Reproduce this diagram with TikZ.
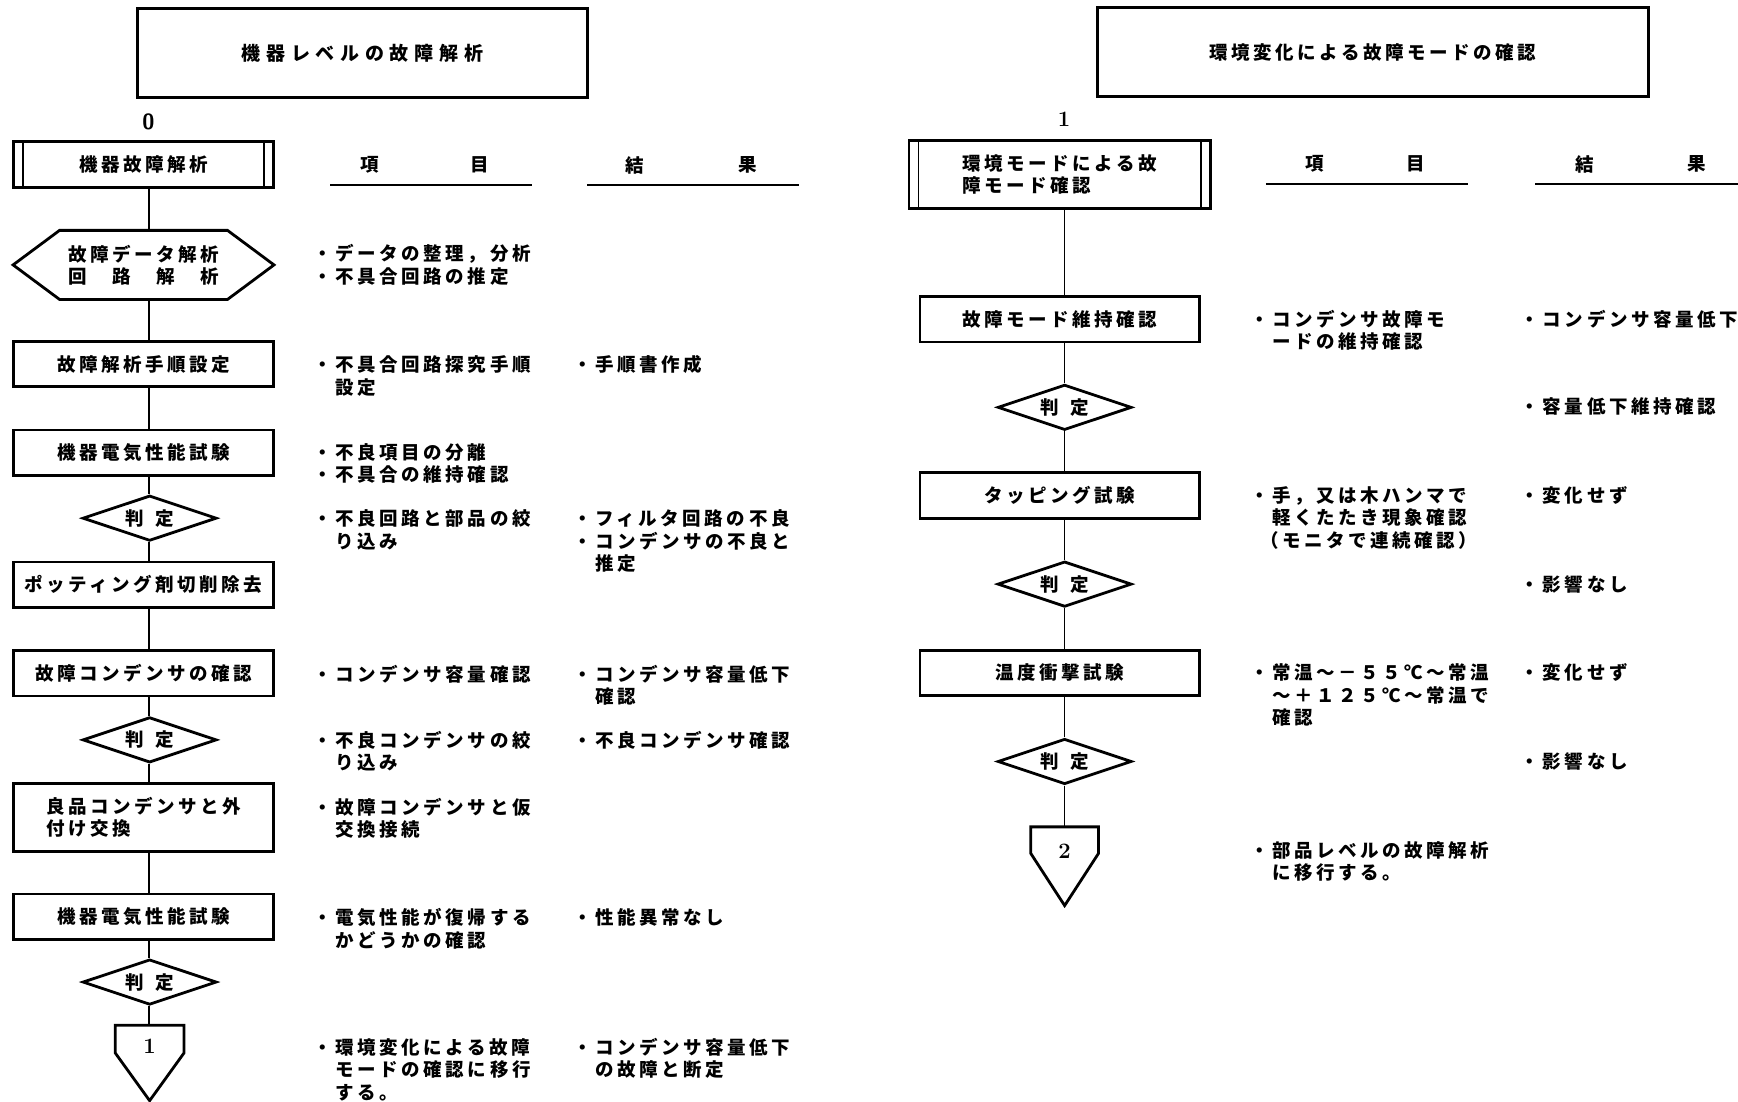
\documentclass[tikz,border=0pt]{standalone}
\usepackage{fontspec}
\usetikzlibrary{shapes.geometric}
\newfontfamily\jpn{Noto Sans CJK JP}[LetterSpace=19]
\newfontfamily\jptl{Noto Sans CJK JP}[LetterSpace=30]
\newcommand\jtx{\jpn\bfseries\fontsize{18.5pt}{22.2pt}\selectfont}
\newcommand\jttl{\jptl\bfseries\fontsize{19pt}{22pt}\selectfont}
\newcommand\jst{\rule[-4.4pt]{0pt}{22.2pt}}
\begin{document}
\begin{tikzpicture}[x=1.1084pt, y=-1.1084pt,
  box/.style={draw, line width=2.8pt, inner sep=0pt, minimum width=260.5pt, minimum height=45.4pt, align=center, font=\jtx},
  rbox/.style={box, minimum width=279.3pt},
  dia/.style={diamond, draw, line width=2.8pt, inner sep=0pt, minimum width=134pt, minimum height=45.4pt, aspect=3, font=\jtx},
  titlebox/.style={draw, line width=2.8pt, inner sep=0pt, minimum height=88.7pt},
  conn/.style={line width=1.2pt},
  bar/.style={line width=1.5pt},
  uline/.style={line width=1.5pt},
  item/.style={anchor=north west, inner sep=0pt, align=left, font=\jtx},
  hd/.style={inner sep=0pt, font=\jtx},
  dg/.style={inner sep=0pt, font=\fontsize{22pt}{22pt}\selectfont\bfseries},
  outl/.style={line width=2.8pt, line join=miter}
]
\fill[white] (0,0) rectangle (1568,994);
\useasboundingbox (0,0) rectangle (1568,994);

% ---------------- left half ----------------
\node[titlebox, minimum width=450pt, font=\jttl] (tL) at (327,48) {機器レベルの故障解析};
\node[dg, font=\fontsize{22pt}{22pt}\selectfont\sffamily\bfseries] (n0) at (134,110) {0};

\coordinate (spL) at (134.5,0);

\node[box] (b0) at (129.5,148.5) {機器故障解析};
\draw[bar] ([xshift=11pt]b0.north west) -- ([xshift=11pt]b0.south west);
\draw[bar] ([xshift=-11pt]b0.north east) -- ([xshift=-11pt]b0.south east);

\node[inner sep=0pt, minimum width=260.5pt, minimum height=68.7pt, align=center, font=\jtx] (hx) at (129.5,239) {故障データ解析\\回　路　解　析};
\draw[outl] (hx.west) -- ([xshift=46.5pt]hx.north west) -- ([xshift=-46.5pt]hx.north east) -- (hx.east) -- ([xshift=-46.5pt]hx.south east) -- ([xshift=46.5pt]hx.south west) -- cycle;

\node[box] (b1) at (129.5,328.5) {故障解析手順設定};
\node[box] (b2) at (129.5,408.5) {機器電気性能試験};
\node[dia] (d1) at (135,467.5) {判\hspace{11pt}定};
\node[box] (b3) at (129.5,527.5) {ポッティング剤切削除去};
\node[box] (b4) at (129.5,607.5) {故障コンデンサの確認};
\node[dia] (d2) at (135,667.5) {判\hspace{11pt}定};
\node[box, minimum height=67.6pt, align=left] (b5) at (129.5,737.5) {良品コンデンサと外\\付け交換};
\node[box] (b6) at (129.5,827) {機器電気性能試験};
\node[dia] (d3) at (135,886) {判\hspace{11pt}定};
\node[dg] (p1) at (135,943.5) {1};
\draw[outl] ([shift={(-31,-18.5)}]p1.center) -- ([shift={(31,-18.5)}]p1.center) -- ([shift={(31,6.5)}]p1.center) -- ([shift={(0,49.5)}]p1.center) -- ([shift={(-31,6.5)}]p1.center) -- cycle;
\coordinate (p1top) at ([shift={(0,-18.5)}]p1.center);

\draw[conn] (b0.south -| spL) -- (hx.north -| spL);
\draw[conn] (hx.south -| spL) -- (b1.north -| spL);
\draw[conn] (b1.south -| spL) -- (b2.north -| spL);
\draw[conn] (b2.south -| spL) -- (d1.north -| spL);
\draw[conn] (d1.south -| spL) -- (b3.north -| spL);
\draw[conn] (b3.south -| spL) -- (b4.north -| spL);
\draw[conn] (b4.south -| spL) -- (d2.north -| spL);
\draw[conn] (d2.south -| spL) -- (b5.north -| spL);
\draw[conn] (b5.south -| spL) -- (b6.north -| spL);
\draw[conn] (b6.south -| spL) -- (d3.north -| spL);
\draw[conn] (d3.south -| spL) -- (p1top -| spL);

% headers left
\node[hd] (hL1) at (334,149) {項};
\node[hd] (hL2) at (433,149) {目};
\node[hd] (hL3) at (573,149) {結};
\node[hd] (hL4) at (675,149) {果};
\draw[uline] (298,167) -- (480,167);
\draw[uline] (530,167) -- (721,167);

% items left
\node[item] (iL1) at (283,219.2) {\jst・データの整理，分析\\・不具合回路の推定};
\node[item] (iL2) at (283,319.2) {\jst・不具合回路探究手順\\　設定};
\node[item] (iL3) at (283,398.2) {\jst・不良項目の分離\\・不具合の維持確認};
\node[item] (iL4) at (283,458.2) {\jst・不良回路と部品の絞\\　り込み};
\node[item] (iL5) at (283,598.2) {\jst・コンデンサ容量確認};
\node[item] (iL6) at (283,658.2) {\jst・不良コンデンサの絞\\　り込み};
\node[item] (iL7) at (283,718.2) {\jst・故障コンデンサと仮\\　交換接続};
\node[item] (iL8) at (283,818.2) {\jst・電気性能が復帰する\\　かどうかの確認};
\node[item] (iL9) at (283,935.2) {\jst・環境変化による故障\\　モードの確認に移行\\　する。};

% results left
\node[item] (rL1) at (517,319.2) {\jst・手順書作成};
\node[item] (rL2) at (517,458.2) {\jst・フィルタ回路の不良\\・コンデンサの不良と\\　推定};
\node[item] (rL3) at (517,598.2) {\jst・コンデンサ容量低下\\　確認};
\node[item] (rL4) at (517,658.2) {\jst・不良コンデンサ確認};
\node[item] (rL5) at (517,818.2) {\jst・性能異常なし};
\node[item] (rL6) at (517,935.2) {\jst・コンデンサ容量低下\\　の故障と断定};

% ---------------- right half ----------------
\node[titlebox, minimum width=550.9pt, font=\jtx] (tR) at (1238.5,47) {環境変化による故障モードの確認};
\node[dg, font=\fontsize{22pt}{22pt}\selectfont] (n1) at (960,108) {\textbf{1}};

\coordinate (spR) at (960.5,0);

\node[box, minimum width=301.5pt, minimum height=67.6pt, align=left] (rb0) at (956,157.5) {環境モードによる故\\障モード確認};
\draw[bar] ([xshift=11pt]rb0.north west) -- ([xshift=11pt]rb0.south west);
\draw[bar] ([xshift=-11pt]rb0.north east) -- ([xshift=-11pt]rb0.south east);

\node[rbox] (r1) at (956,288) {故障モード維持確認};
\node[dia] (rd1) at (960.5,367.5) {判\hspace{11pt}定};
\node[rbox] (r2) at (956,447) {タッピング試験};
\node[dia] (rd2) at (960.5,527) {判\hspace{11pt}定};
\node[rbox] (r3) at (956,607) {温度衝撃試験};
\node[dia] (rd3) at (960.5,687) {判\hspace{11pt}定};
\node[dg] (p2) at (960.5,768) {2};
\draw[outl] ([shift={(-30.5,-22)}]p2.center) -- ([shift={(30.5,-22)}]p2.center) -- ([shift={(30.5,2)}]p2.center) -- ([shift={(0,49)}]p2.center) -- ([shift={(-30.5,2)}]p2.center) -- cycle;
\coordinate (p2top) at ([shift={(0,-22)}]p2.center);

\draw[conn] (rb0.south -| spR) -- (r1.north -| spR);
\draw[conn] (r1.south -| spR) -- (rd1.north -| spR);
\draw[conn] (rd1.south -| spR) -- (r2.north -| spR);
\draw[conn] (r2.south -| spR) -- (rd2.north -| spR);
\draw[conn] (rd2.south -| spR) -- (r3.north -| spR);
\draw[conn] (r3.south -| spR) -- (rd3.north -| spR);
\draw[conn] (rd3.south -| spR) -- (p2top -| spR);

% headers right
\node[hd] (hR1) at (1186,148) {項};
\node[hd] (hR2) at (1277,148) {目};
\node[hd] (hR3) at (1430,148) {結};
\node[hd] (hR4) at (1531,148) {果};
\draw[uline] (1142,166) -- (1324,166);
\draw[uline] (1385,166) -- (1568,166);

% items right
\node[item] (iR1) at (1128,278.2) {\jst・コンデンサ故障モ\\　ードの維持確認};
\node[item] (iR2) at (1128,437.2) {\jst・手，又は木ハンマで\\　軽くたたき現象確認\\\hspace*{10pt}（モニタで連続確認）};
\node[item] (iR3) at (1128,597.2) {\jst・常温～－５５℃～常温\\　～＋１２５℃～常温で\\　確認};
\node[item] (iR4) at (1128,757.2) {\jst・部品レベルの故障解析\\　に移行する。};

% results right
\node[item] (rR1) at (1372,278.2) {\jst・コンデンサ容量低下};
\node[item] (rR2) at (1372,357.2) {\jst・容量低下維持確認};
\node[item] (rR3) at (1372,437.2) {\jst・変化せず};
\node[item] (rR4) at (1372,517.2) {\jst・影響なし};
\node[item] (rR5) at (1372,597.2) {\jst・変化せず};
\node[item] (rR6) at (1372,677.2) {\jst・影響なし};
\end{tikzpicture}
\end{document}
